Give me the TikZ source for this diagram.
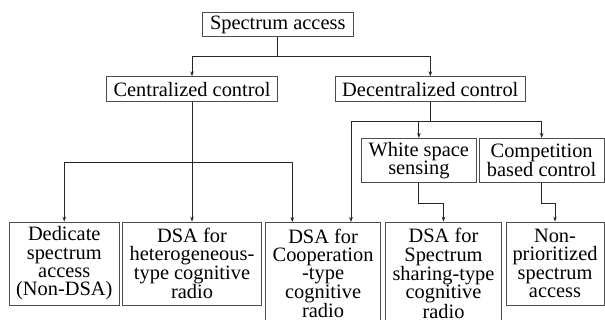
\documentclass[tikz,border=0pt]{standalone}
\usepackage{fontspec}
\setmainfont{Liberation Serif}
\usetikzlibrary{arrows.meta}
\begin{document}
\begin{tikzpicture}[x=1pt,y=1pt,
  box/.style={draw=black!70, line width=0.8pt, align=center, inner sep=0pt,
    font=\fontsize{20.4}{18.3}\selectfont},
  conn/.style={draw=black!85, line width=0.8pt},
  arr/.style={conn, -{Stealth[length=5pt,width=3.6pt]}}]
\useasboundingbox (0,0) rectangle (605,-320);
% top levels
\node[box, minimum width=150.5, minimum height=24.4] (S) at (277.75,-24.5) {Spectrum access};
\node[box, minimum width=170.5, minimum height=25] (C) at (192,-89.2) {Centralized control};
\node[box, minimum width=190, minimum height=25] (D) at (430.3,-89.2) {Decentralized control};
% middle
\node[box, minimum width=115.7, minimum height=44.4] (W) at (418.85,-160.5) {White space\\sensing};
\node[box, minimum width=124.7, minimum height=44.4] (Comp) at (541.65,-160.5) {Competition\\based control};
% bottom
\node[box, minimum width=109.5, minimum height=83] (B1) at (64.25,-263.5) {Dedicate\\spectrum\\access\\(Non-DSA)};
\node[box, minimum width=139.2, minimum height=83] (B2) at (192,-263.5) {DSA for\\heterogeneous-\\type cognitive\\radio};
\node[box, minimum width=114.8, minimum height=103] (B3) at (323.1,-273.5) {DSA for\\Cooperation\\-type\\cognitive\\radio};
\node[box, minimum width=116, minimum height=103] (B4) at (443.5,-273.5) {DSA for\\Spectrum\\sharing-type\\cognitive\\radio};
\node[box, minimum width=98, minimum height=83] (B5) at (555,-263.5) {Non-\\prioritized\\spectrum\\access};
% connectors
\coordinate (j1) at (277.75,-56.7);
\draw[conn] (S.south) -- (j1);
\draw[arr] (j1) -| (C.north);
\draw[arr] (j1) -| (D.north);
\coordinate (j2) at (192,-162.3);
\draw[conn] (C.south) -- (j2);
\draw[arr] (j2) -| (B1.north);
\draw[arr] (j2) -- (B2.north);
\coordinate (b3a) at (292.3,-222);
\draw[arr] (j2) -| (b3a);
\coordinate (j3) at (430.3,-121);
\draw[conn] (D.south) -- (j3);
\draw[arr] (j3) -| (W.north);
\draw[arr] (j3) -| (Comp.north);
\coordinate (b3b) at (351,-222);
\draw[arr] (j3) -| (b3b);
\draw[arr] (W.south) -- ++(0,-20) -| (B4.north);
\draw[arr] (Comp.south) -- ++(0,-20) -| (B5.north);
\end{tikzpicture}
\end{document}
